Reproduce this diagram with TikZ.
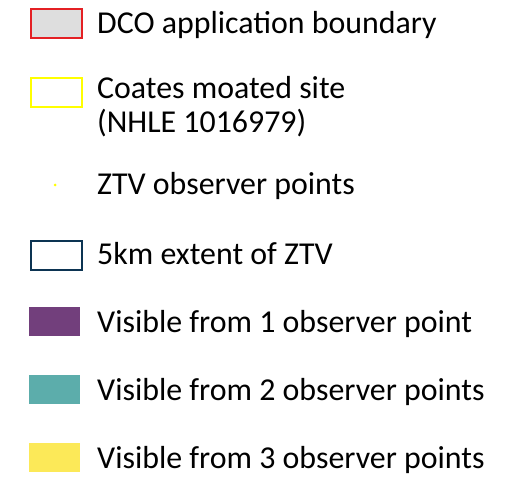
\documentclass[tikz,border=0pt]{standalone}
\usepackage{fontspec}
\setmainfont{Carlito}
\definecolor{dcored}{RGB}{228,32,36}
\definecolor{dcofill}{RGB}{222,222,222}
\definecolor{ztvyel}{RGB}{255,255,0}
\definecolor{navy}{RGB}{12,52,82}
\definecolor{vis1}{RGB}{114,63,124}
\definecolor{vis2}{RGB}{92,173,171}
\definecolor{vis3}{RGB}{252,233,88}
\tikzset{
  px/.style={x=1bp,y=-1bp},
  lbl/.style={anchor=base west,font=\fontsize{32}{35}\selectfont,inner sep=0pt,align=left},
  swatch/.style={minimum width=51bp,minimum height=29bp,inner sep=0pt,anchor=north west}
}
\begin{document}
\begin{tikzpicture}[px]
\useasboundingbox (0,0) rectangle (526,479);
\node[swatch,draw=dcored,line width=2bp,fill=dcofill] (s1) at (29.5,8.5) {};
\node[lbl] (t1) at (97,34) {DCO application boundary};
\node[swatch,draw=ztvyel,line width=2bp] (s2) at (29.5,77.5) {};
\node[lbl] (t2) at (97,133) {Coates moated site\\(NHLE 1016979)};
\node[circle,fill=ztvyel,inner sep=0pt,minimum size=3bp] (s3) at (55,185) {};
\node[lbl] (t3) at (97,195) {ZTV observer points};
\node[swatch,draw=navy,line width=2bp] (s4) at (29.5,239.5) {};
\node[lbl] (t4) at (97,264) {5km extent of ZTV};
\node[swatch,fill=vis1] (s5) at (29,307) {};
\node[lbl] (t5) at (97,332) {Visible from 1 observer point};
\node[swatch,fill=vis2] (s6) at (29,375) {};
\node[lbl] (t6) at (97,400) {Visible from 2 observer points};
\node[swatch,fill=vis3] (s7) at (29,443) {};
\node[lbl] (t7) at (97,468) {Visible from 3 observer points};
\end{tikzpicture}
\end{document}
